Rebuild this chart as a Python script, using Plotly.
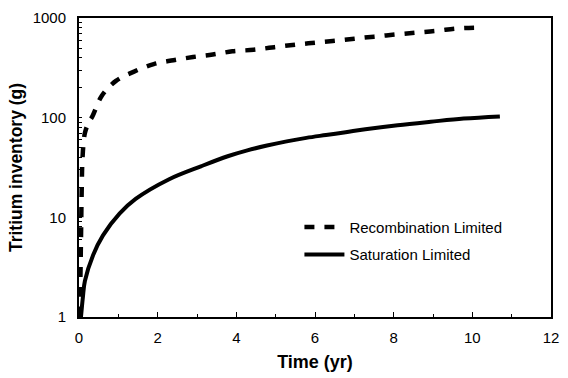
import plotly.graph_objects as go

# Recombination Limited (dashed)
recomb_t = [0.0, 0.03, 0.05, 0.07, 0.09, 0.15, 0.25, 0.34, 0.58, 0.94, 1.4, 1.9, 2.4, 2.9,
            3.4, 3.9, 4.44, 4.97, 5.5, 6.0, 6.5, 7.0, 7.5, 8.07, 8.6, 9.1, 9.6, 10.07]
recomb_g = [1.0, 2.0, 6.0, 20, 40, 70, 90, 103, 166, 234, 290, 345, 377, 406,
            430, 463, 480, 510, 540, 565, 590, 620, 650, 685, 715, 745, 785, 800]

# Saturation Limited (solid)
sat_t = [0.05, 0.1, 0.15, 0.36, 0.61, 1.03, 1.44, 2.28, 3.1, 3.78, 4.28, 4.78, 5.28,
         5.78, 6.28, 6.78, 7.28, 8.1, 8.94, 9.78, 10.7]
sat_g = [1.0, 1.6, 2.3, 4.2, 6.6, 10.9, 15.3, 24, 32.5, 41, 47, 52.5, 57.8,
         62.7, 67, 71.5, 76.5, 84, 91, 98, 103]

x_tickvals = [0, 2, 4, 6, 8, 10, 12]
x_ticktext = ["0", "2", "4", "6", "8", "10", "12"]
y_major = [1, 10, 100, 1000]
y_major_text = ["1", "10", "100", "1000"]
y_minor = [m * d for d in (1, 10, 100) for m in range(2, 10)]

font_family = "Liberation Sans, Arial, sans-serif"

fig = go.Figure()
fig.add_trace(go.Scatter(
    x=recomb_t, y=recomb_g, mode="lines", name="Recombination Limited",
    line=dict(color="black", width=4.5, dash="10px,10px", shape="spline"),
    legendgroup="a"))
fig.add_trace(go.Scatter(
    x=sat_t, y=sat_g, mode="lines", name="Saturation Limited",
    line=dict(color="black", width=4, shape="spline"),
    legendgroup="b"))

tvals = y_major + y_minor
ttext = y_major_text + [""] * len(y_minor)

fig.update_layout(
    width=568, height=378,
    margin=dict(l=79, r=9, t=16, b=58),
    paper_bgcolor="white", plot_bgcolor="white",
    font=dict(family=font_family, size=15, color="black"),
    showlegend=True,
    legend=dict(x=0.467, y=0.355, xanchor="left", yanchor="top",
                bgcolor="rgba(0,0,0,0)", font=dict(size=15),
                tracegroupgap=5, itemwidth=40),
    xaxis=dict(range=[0, 12], tickvals=x_tickvals, ticktext=x_ticktext,
               ticks="inside", ticklen=5, tickwidth=1, tickcolor="black",
               ticklabelstandoff=6,
               minor=dict(dtick=1, ticks="inside", ticklen=3, tickcolor="black"),
               showline=True, linecolor="black", linewidth=2, mirror=True,
               showgrid=False, zeroline=False,
               title=dict(text="<b>Time (yr)</b>", font=dict(size=18), standoff=10)),
    yaxis=dict(type="log", range=[0, 3], tickvals=tvals, ticktext=ttext,
               ticks="inside", ticklen=3, tickwidth=1, tickcolor="black",
               ticklabelstandoff=8,
               showline=True, linecolor="black", linewidth=2, mirror=True,
               showgrid=False, zeroline=False,
               title=dict(text="<b>Tritium inventory (g)</b>", font=dict(size=17.5), standoff=6)),
)

fig.write_html("out.html")
